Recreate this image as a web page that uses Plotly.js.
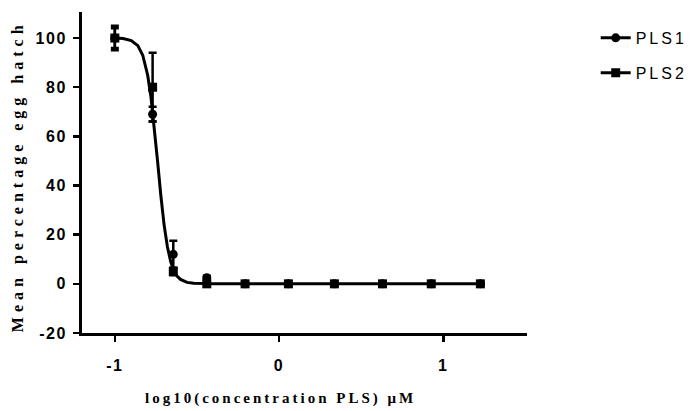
<!DOCTYPE html>
<html>
<head>
<meta charset="utf-8">
<script src="https://cdn.plot.ly/plotly-3.0.1.min.js"></script>
<style>
html,body{margin:0;padding:0;background:#fff;}
#chart{width:700px;height:411px;}
.ytick text{letter-spacing:1.5px;}
.xtick text{letter-spacing:1.5px;}
.legendtext{letter-spacing:3px;}
.ytitleann text{letter-spacing:5px;}
.annotation-text{letter-spacing:3px;}
</style>
</head>
<body>
<div id="chart"></div>
<script>
// log10 concentration (µM)
const logConc = [-1.0, -0.77, -0.644, -0.44, -0.207, 0.057, 0.337, 0.63, 0.927, 1.226];
// PLS1 mean % egg hatch and SEM
const pls1 = [100, 69, 12, 2.5, 0, 0, 0, 0, 0, 0];
const pls1Err = [4, 3, 5.5, 0.8, 0, 0, 0, 0, 0, 0];
// PLS2 mean % egg hatch and SEM
const pls2 = [100, 80, 5, 0, 0, 0, 0, 0, 0, 0];
const pls2Err = [5, 14, 1.5, 0, 0, 0, 0, 0, 0, 0];
// fitted dose-response curve
const fitX = [-1.0, -0.95, -0.90, -0.86, -0.83, -0.80, -0.78, -0.76, -0.74, -0.72, -0.70, -0.68, -0.66, -0.64, -0.62, -0.60, -0.56, -0.52, -0.46, -0.40, 1.226];
const fitY = [100, 99.8, 99.0, 96.9, 93.0, 84.9, 76.0, 64.0, 50.0, 36.0, 24.0, 15.1, 9.1, 5.3, 3.1, 1.8, 0.6, 0.2, 0.03, 0, 0];
const seriesNames = ['PLS1', 'PLS2'];
const xTicks = [-1, 0, 1];
const yTicks = [-20, 0, 20, 40, 60, 80, 100];

const black = '#000';
const traces = [
  {x: fitX, y: fitY, mode: 'lines', line: {color: black, width: 3}, showlegend: false, hoverinfo: 'skip'},
  {x: logConc, y: pls1, mode: 'markers', showlegend: false,
   marker: {symbol: 'circle', size: 9, color: black},
   error_y: {type: 'data', array: pls1Err, visible: true, color: black, thickness: 2.5, width: 4}},
  {x: logConc, y: pls2, mode: 'markers', showlegend: false,
   marker: {symbol: 'square', size: 9, color: black},
   error_y: {type: 'data', array: pls2Err, visible: true, color: black, thickness: 2.5, width: 4}},
  {x: [null], y: [null], name: seriesNames[0], mode: 'lines+markers', legendgroup: 'a',
   line: {color: black, width: 3}, marker: {symbol: 'circle', size: 9, color: black}},
  {x: [null], y: [null], name: seriesNames[1], mode: 'lines+markers', legendgroup: 'b',
   line: {color: black, width: 3}, marker: {symbol: 'square', size: 9, color: black}}
];

const layout = {
  width: 700, height: 411,
  margin: {l: 82, r: 173, t: 12, b: 78},
  paper_bgcolor: '#fff', plot_bgcolor: '#fff',
  font: {family: 'Liberation Sans, Arial, sans-serif', color: black},
  showlegend: true,
  legend: {xref: 'container', yref: 'container', x: 0.851, y: 0.949, xanchor: 'left', yanchor: 'top',
    font: {family: 'Liberation Sans, Arial, sans-serif', size: 16, color: black},
    tracegroupgap: 11, itemwidth: 30, bgcolor: 'rgba(0,0,0,0)'},
  xaxis: {range: [-1.2, 1.51], tickvals: xTicks, ticktext: xTicks.map(String),
    showgrid: false, zeroline: false, showline: true, linecolor: black, linewidth: 3,
    ticks: 'outside', ticklen: 6, tickwidth: 2.5, tickcolor: black,
    ticklabelstandoff: 10, automargin: false,
    tickfont: {family: 'Liberation Sans, Arial, sans-serif', size: 16, color: black, weight: 'bold'}},
  yaxis: {range: [-20, 110.6], tickvals: yTicks, ticktext: yTicks.map(String),
    showgrid: false, zeroline: false, showline: true, linecolor: black, linewidth: 3,
    ticks: 'outside', ticklen: 6, tickwidth: 2.5, tickcolor: black,
    ticklabelstandoff: 3, automargin: false,
    tickfont: {family: 'Liberation Sans, Arial, sans-serif', size: 16, color: black, weight: 'bold'}},
  annotations: [
    {text: '<b>log10(concentration PLS) μM</b>', xref: 'paper', yref: 'paper',
     x: 0.445, y: -0.205, xanchor: 'center', yanchor: 'middle', showarrow: false,
     font: {family: 'Liberation Serif, Times New Roman, serif', size: 15, color: black}},
    {text: '<b>Mean percentage egg hatch</b>', xref: 'paper', yref: 'paper',
     x: -0.145, y: 0.49, xanchor: 'center', yanchor: 'middle', showarrow: false, textangle: -90,
     font: {family: 'Liberation Serif, Times New Roman, serif', size: 16, color: black}}
  ]
};

Plotly.newPlot('chart', traces, layout, {displayModeBar: false, staticPlot: true}).then(function(){
  const anns = document.querySelectorAll('.annotation');
  if (anns[1]) anns[1].classList.add('ytitleann');
});
</script>
</body>
</html>
